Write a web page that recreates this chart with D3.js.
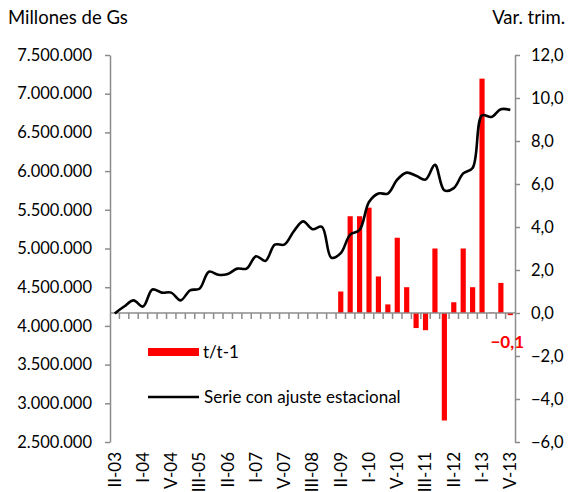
<!DOCTYPE html>
<html><head><meta charset="utf-8">
<script src="https://cdn.jsdelivr.net/npm/d3@7"></script>
<style>
body{margin:0;background:#fff;}
text{font-family:Lato,"Open Sans",sans-serif;}
</style></head>
<body><svg id="c" width="570" height="492"></svg>
<script>
const categories = ["II-03","III-03","IV-03","I-04","II-04","III-04","IV-04","I-05","II-05","III-05","IV-05",
"I-06","II-06","III-06","IV-06","I-07","II-07","III-07","IV-07","I-08","II-08","III-08","IV-08",
"I-09","II-09","III-09","IV-09","I-10","II-10","III-10","IV-10","I-11","II-11","III-11","IV-11",
"I-12","II-12","III-12","IV-12","I-13","II-13","III-13","IV-13"];
const tickLabels = ["II-03","I-04","V-04","III-05","II-06","I-07","V-07","III-08","II-09","I-10","V-10","III-11","II-12","I-13","V-13"];
// Serie con ajuste estacional (millones de Gs)
const serie = [4160000,4250000,4330000,4250000,4470000,4430000,4430000,4330000,4460000,4480000,4700000,
4660000,4670000,4740000,4740000,4900000,4840000,5050000,5050000,5220000,5350000,5250000,5280000,
4880000,4940000,5180000,5240000,5600000,5710000,5710000,5890000,5980000,5940000,5890000,6080000,
5750000,5780000,5970000,6040000,6720000,6700000,6800000,6790000];
// t/t-1 (var. trim.)
const tt = [null,null,null,null,null,null,null,null,null,null,null,null,null,null,null,null,null,null,null,null,null,null,null,null,
1.0,4.5,4.5,4.9,1.7,0.4,3.5,1.2,-0.7,-0.8,3.0,-5.0,0.5,3.0,1.2,10.9,0.02,1.4,-0.1];
const leftTicks = [2500000,3000000,3500000,4000000,4500000,5000000,5500000,6000000,6500000,7000000,7500000];
const rightTicks = [-6,-4,-2,0,2,4,6,8,10,12];

const svg = d3.select("#c");
const x0 = 110, x1 = 515, yTop = 55, yBot = 442;
const x = d3.scaleBand().domain(categories).range([x0,x1]).padding(0);
const yL = d3.scaleLinear().domain([2500000,7500000]).range([yBot,yTop]);
const yR = d3.scaleLinear().domain([-6,12]).range([yBot,yTop]);
const axisColor = "#8c8c8c";
const fmtL = d => d3.format(",")(d).replace(/,/g,".");
const fmtR = d => d3.format(".1f")(d).replace(".",",");

// left axis
const gL = svg.append("g").attr("transform",`translate(${x0},0)`)
  .call(d3.axisLeft(yL).tickValues(leftTicks).tickFormat(fmtL).tickSize(5).tickSizeOuter(0).tickPadding(13));
// right axis
const gR = svg.append("g").attr("transform",`translate(${x1},0)`)
  .call(d3.axisRight(yR).tickValues(rightTicks).tickFormat(fmtR).tickSize(5).tickSizeOuter(0).tickPadding(11));
[gL,gR].forEach(g=>{
  g.select(".domain").attr("stroke",axisColor).attr("stroke-width",1.5);
  g.selectAll(".tick line").attr("stroke",axisColor).attr("stroke-width",1.5);
  g.selectAll("text").style("font-family","Lato, sans-serif").style("font-size","16.5px").style("fill","#000");
});

// bars
const bw = x.bandwidth()*0.55;
svg.append("g").selectAll("rect").data(categories.map((c,i)=>({c,v:tt[i]})).filter(d=>d.v!==null))
  .join("rect")
  .attr("x",d=>x(d.c)+(x.bandwidth()-bw)/2)
  .attr("width",bw)
  .attr("y",d=>Math.min(yR(d.v),yR(0)))
  .attr("height",d=>Math.abs(yR(d.v)-yR(0)))
  .attr("fill","#ff0000");

// x axis (at right-axis zero)
const y0 = yR(0);
svg.append("line").attr("x1",x0).attr("x2",x1).attr("y1",y0).attr("y2",y0)
  .attr("stroke",axisColor).attr("stroke-width",1.5);
svg.append("g").selectAll("line").data(categories.slice(1))
  .join("line")
  .attr("x1",d=>x(d)).attr("x2",d=>x(d)).attr("y1",y0).attr("y2",y0+6)
  .attr("stroke",axisColor).attr("stroke-width",1.5);

// x labels
svg.append("g").selectAll("text").data(tickLabels)
  .join("text")
  .attr("transform",(d,i)=>`translate(${x(categories[i*3])+x.bandwidth()/2},452) rotate(-90)`)
  .attr("text-anchor","end").attr("dy","0.35em")
  .style("font-size","17px").style("fill","#000")
  .text(d=>d);

// line
const line = d3.line().x((d,i)=>x(categories[i])+x.bandwidth()/2).y(d=>yL(d)).curve(d3.curveCatmullRom.alpha(0.5));
svg.append("path").datum(serie).attr("d",line).attr("fill","none").attr("stroke","#000").attr("stroke-width",2.6);

// data label for last bar
const last = categories.length-1;
svg.append("text").attr("x",x(categories[last])+x.bandwidth()/2-3).attr("y",yR(tt[last])+33)
  .attr("text-anchor","middle").style("font-size","17px").style("font-weight","bold").style("fill","#ff0000")
  .text(fmtR(tt[last]));

// titles
svg.append("text").attr("x",8).attr("y",24).style("font-size","18.5px").style("fill","#000").text("Millones de Gs");
svg.append("text").attr("x",565).attr("y",24).attr("text-anchor","end").style("font-size","18.5px").style("fill","#000").text("Var. trim.");

// legend
svg.append("rect").attr("x",148).attr("y",348).attr("width",51).attr("height",8).attr("fill","#ff0000");
svg.append("text").attr("x",203).attr("y",352).attr("dy","0.35em").style("font-size","17px").style("fill","#000").text("t/t-1");
svg.append("line").attr("x1",148).attr("x2",199).attr("y1",397).attr("y2",397).attr("stroke","#000").attr("stroke-width",2.6);
svg.append("text").attr("x",204).attr("y",397).attr("dy","0.35em").style("font-size","17px").style("fill","#000").text("Serie con ajuste estacional");
</script></body></html>
